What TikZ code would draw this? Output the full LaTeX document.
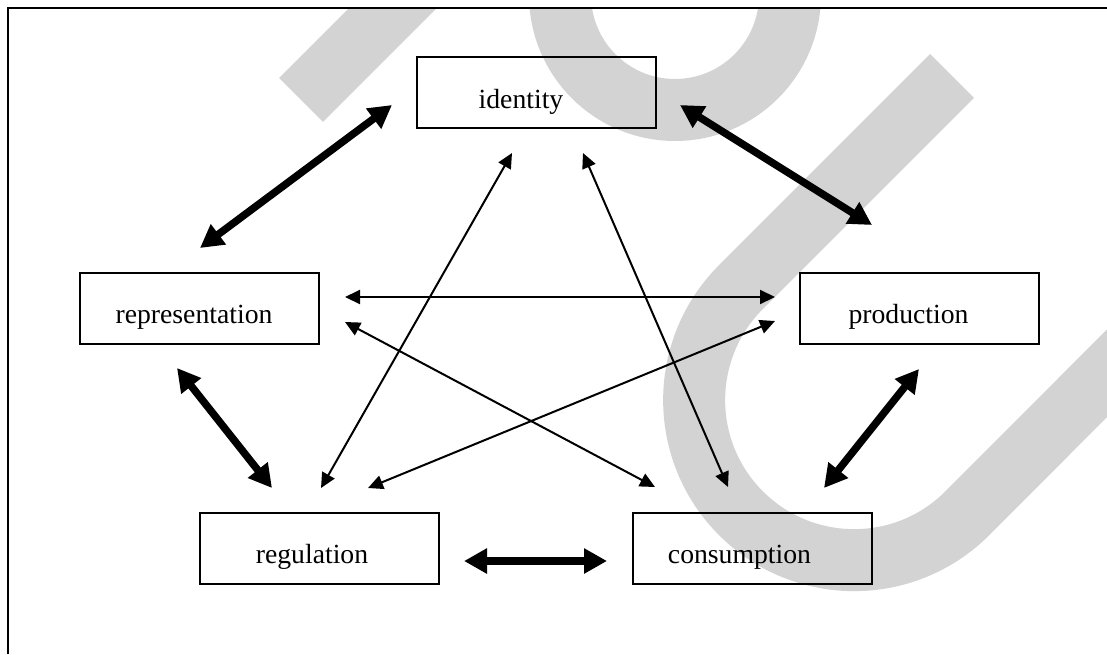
\documentclass[tikz,border=0pt]{standalone}
\usepackage{fontspec}
\setmainfont{Liberation Serif}
\usetikzlibrary{arrows.meta}
\definecolor{wm}{RGB}{211,211,211}
\begin{document}
\begin{tikzpicture}[x=1pt,y=-1pt,
  box/.style={draw, line width=2pt, minimum width=239pt, minimum height=71pt, inner sep=0pt},
  lbl/.style={font=\fontsize{27.7}{33}\selectfont, anchor=base, inner sep=0pt},
  thinarr/.style={line width=2pt, {Triangle[length=15pt,width=14pt]}-{Triangle[length=15pt,width=14pt]}},
  thickarr/.style={line width=7.5pt, {Triangle[length=23pt,width=24pt]}-{Triangle[length=23pt,width=24pt]}},
  wmark/.style={draw=wm, line width=62pt}]
\useasboundingbox (0,0) rectangle (1107,654);
% watermark
\begin{scope}
\clip (9,9) rectangle (1107,654);
\draw[wmark] (301,100) -- (460,-59);
\draw[wmark] (675,-5) circle[radius=115pt];
\draw[wmark] (952,76) -- (741,287) arc[start angle=135,end angle=315,radius=160pt] -- (1230,250);
\end{scope}
% frame
\draw[line width=1.6pt] (8,654) -- (8,8) -- (1107,8);
% boxes
\node[box] (id) at (536,92) {};
\node[box] (rep) at (199.5,308) {};
\node[box] (prod) at (919.5,308) {};
\node[box] (reg) at (319.5,548) {};
\node[box] (cons) at (752,548) {};
% labels
\node[lbl] (idl) at (521,108.3) {identity};
\node[lbl] (repl) at (194,323.3) {representation};
\node[lbl] (prodl) at (908.5,323) {production};
\node[lbl] (regl) at (312,563) {regulation};
\node[lbl] (consl) at (739.5,563) {consumption};
% arrow end points
\coordinate (rpA) at (345,297);  \coordinate (rpB) at (775,297);
\coordinate (rcA) at (345,322);  \coordinate (rcB) at (655,487);
\coordinate (pgA) at (775,321);  \coordinate (pgB) at (368,488);
\coordinate (igA) at (512,153);  \coordinate (igB) at (321,488);
\coordinate (icA) at (583,153);  \coordinate (icB) at (728,487);
\coordinate (irA) at (392,105);  \coordinate (irB) at (200,248);
\coordinate (ipA) at (680,105);  \coordinate (ipB) at (872,225);
\coordinate (rgA) at (177,368);  \coordinate (rgB) at (272,488);
\coordinate (pcA) at (919,369);  \coordinate (pcB) at (824,488);
\coordinate (gcA) at (464,561);  \coordinate (gcB) at (607,561);
% thin arrows
\draw[thinarr] (rpA) -- (rpB);
\draw[thinarr] (rcA) -- (rcB);
\draw[thinarr] (pgA) -- (pgB);
\draw[thinarr] (igA) -- (igB);
\draw[thinarr] (icA) -- (icB);
% thick arrows
\draw[thickarr] (irA) -- (irB);
\draw[thickarr] (ipA) -- (ipB);
\draw[thickarr] (rgA) -- (rgB);
\draw[thickarr] (pcA) -- (pcB);
\draw[thickarr] (gcA) -- (gcB);
\end{tikzpicture}
\end{document}
